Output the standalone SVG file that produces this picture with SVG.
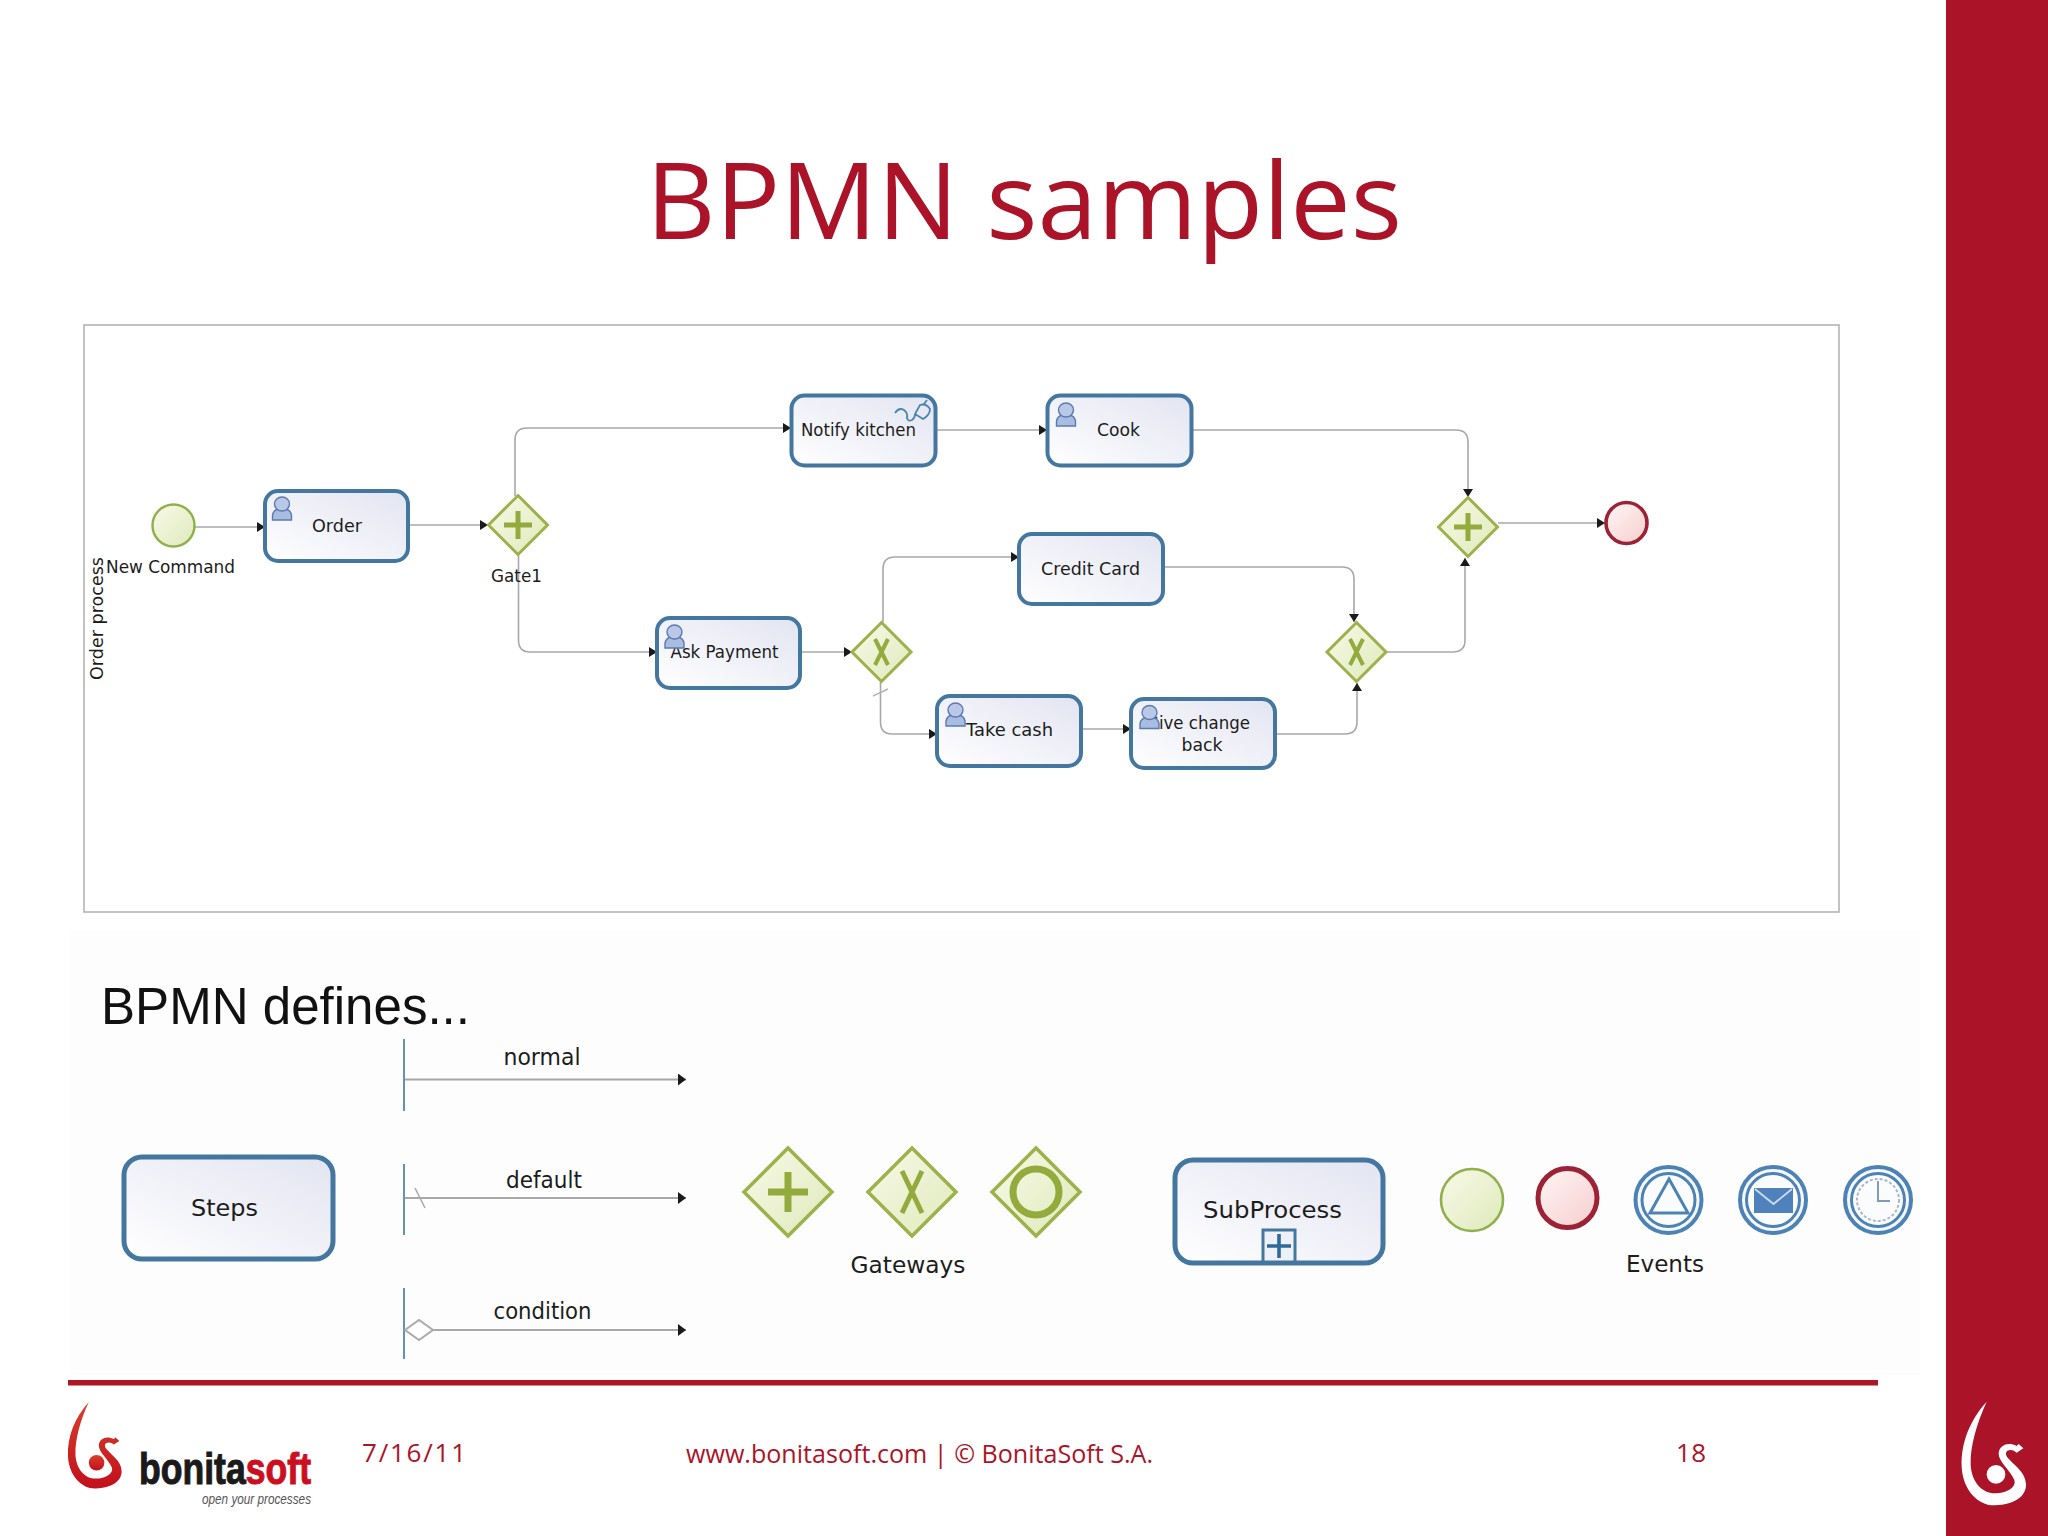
<svg xmlns="http://www.w3.org/2000/svg" xmlns:xlink="http://www.w3.org/1999/xlink" width="2048" height="1536" viewBox="0 0 2048 1536">
<style>
.box{fill:url(#gBox);stroke:#44779f;stroke-width:4}
.box2{fill:url(#gBox);stroke:#44779f;stroke-width:5}
.gw{fill:url(#gGw);stroke:#9db14a;stroke-width:3;stroke-linejoin:miter}
.mk{fill:none;stroke:#94aa3c;stroke-width:5}
.con{fill:none;stroke:#a8a8a8;stroke-width:1.6;marker-end:url(#arr)}
.con2{fill:none;stroke:#a8a8a8;stroke-width:2.2;marker-end:url(#arrB)}
.v{stroke:#3f76a0;stroke-width:1.6}
.t{font-family:"DejaVu Sans",sans-serif;font-size:18px;fill:#1c1c1c;text-anchor:middle}
.t2{font-family:"DejaVu Sans",sans-serif;font-size:23px;fill:#1c1c1c;text-anchor:middle}
.f{font-family:"Open Sans",Lato,sans-serif;font-size:26px;fill:#ab1428}
.ring{fill:#f4f7fb;stroke:#4c82b4;stroke-width:4}
.ring2{fill:#fbfcfe;stroke:#4c82b4;stroke-width:3}
</style>
<defs>
<linearGradient id="gBox" x1="0" y1="1" x2="1" y2="0"><stop offset="0" stop-color="#ffffff"/><stop offset="1" stop-color="#e2e4f1"/></linearGradient>
<linearGradient id="gGw" x1="0" y1="0" x2="1" y2="1"><stop offset="0" stop-color="#f8fae8"/><stop offset="1" stop-color="#dfe9bb"/></linearGradient>
<linearGradient id="gEnd" x1="0" y1="0" x2="1" y2="1"><stop offset="0" stop-color="#fff7f5"/><stop offset="1" stop-color="#f5cdcd"/></linearGradient>
<linearGradient id="gRed" x1="0" y1="0" x2="0" y2="1"><stop offset="0" stop-color="#d8402a"/><stop offset="1" stop-color="#c20f1e"/></linearGradient>
<marker id="arr" markerUnits="userSpaceOnUse" markerWidth="10" markerHeight="12" refX="9" refY="5" orient="auto"><path d="M1,0 L9,5 L1,10 Z" fill="#1a1a1a"/></marker>
<marker id="arrB" markerUnits="userSpaceOnUse" markerWidth="12" markerHeight="14" refX="11" refY="6" orient="auto"><path d="M3,0 L11,6 L3,12 Z" fill="#1a1a1a"/></marker>
<g id="user"><path d="M0,23 L0,18 Q1,13 6,12 L13,12 Q18,13 19,18 L19,23 Z" fill="#a9bde0" stroke="#5c7ab0" stroke-width="1.4"/><ellipse cx="9.5" cy="7" rx="7.5" ry="7" fill="#b8c8e6" stroke="#5c7ab0" stroke-width="1.4"/></g>
<g id="swoosh"><path d="M200,65 C150,120 122,190 125,260 C128,330 175,378 225,376 C280,374 320,350 318,312 C316,275 280,255 262,232 C252,218 262,205 282,212 L290,218 L310,205 L296,192 L290,198 C265,185 238,195 236,220 C235,245 270,270 283,300 C290,322 260,340 225,340 C185,340 155,305 152,255 C150,200 170,130 200,65 Z"/><circle cx="228" cy="283" r="28"/></g>
</defs>
<rect width="2048" height="1536" fill="#ffffff"/>
<rect x="70" y="930" width="1850" height="445" fill="#fdfdfd"/>
<rect x="1946" y="0" width="102" height="1536" fill="#ab1428"/>
<use xlink:href="#swoosh" href="#swoosh" transform="translate(1920,1380) scale(.3333)" fill="#ffffff"/>
<text x="1024" y="239" text-anchor="middle" font-family="'Open Sans',Lato,sans-serif" font-size="106" fill="#ab1428" textLength="756" lengthAdjust="spacingAndGlyphs">BPMN samples</text>
<rect x="84" y="325" width="1755" height="587" fill="#ffffff" stroke="#b4b4b4" stroke-width="1.6"/>

<g id="connectors">
<path class="con" d="M195,527 H265"/>
<path class="con" d="M408,525 H488"/>
<path class="con" d="M515,496 V440 Q515,428 527,428 H791"/>
<path class="con" d="M518.5,555 V640 Q518.5,652 530,652 H657"/>
<path class="con" d="M800,652 H852"/>
<path class="con" d="M883,622 V569 Q883,557 895,557 H1019"/>
<path class="con" d="M880.5,682 V722 Q880.5,734 892,734 H937"/>
<path d="M873,696 L888,689" stroke="#b4b4b4" stroke-width="1.4" fill="none"/>
<path class="con" d="M935,430 H1047"/>
<path class="con" d="M1191,430 H1456 Q1468,430 1468,442 V497"/>
<path class="con" d="M1163,567 H1342 Q1354,567 1354,579 V622"/>
<path class="con" d="M1081,729 H1131"/>
<path class="con" d="M1275,734 H1345 Q1357,734 1357,722 V683"/>
<path class="con" d="M1387,652 H1453 Q1465,652 1465,640 V558"/>
<path class="con" d="M1498,523 H1605"/>
</g>

<g id="pool-label"><text class="t" transform="translate(103,618.5) rotate(-90)" textLength="123" lengthAdjust="spacingAndGlyphs">Order process</text></g>

<g id="start"><circle cx="173.5" cy="525.500" r="21" fill="url(#gGw)" stroke="#8fb04a" stroke-width="2.4"/><text class="t" x="170.5" y="572.500" textLength="129" lengthAdjust="spacingAndGlyphs">New Command</text></g>
<g id="order"><rect class="box" x="265" y="491" width="143" height="70" rx="13"/><text class="t" x="337" y="531.500" textLength="50" lengthAdjust="spacingAndGlyphs">Order</text><use xlink:href="#user" href="#user" x="272.500" y="497"/></g>
<g id="gate1"><path class="gw" d="M518,495.500 L547.500,525 L518,554.500 L488.500,525 Z"/><path class="mk" d="M518,511 V539 M504,525 H532"/><text class="t" x="516.500" y="581.500" textLength="51" lengthAdjust="spacingAndGlyphs">Gate1</text></g>
<g id="notify"><rect class="box" x="791.500" y="395.500" width="144" height="70" rx="13"/><text class="t" x="858.500" y="436" textLength="115" lengthAdjust="spacingAndGlyphs">Notify kitchen</text><path d="M895,413 Q899,407 904,410 Q908,413 907,418 Q908,422 912,420 Q915,418 915,414 M915,414 L920,405 Q926,403 930,409 Q930,415 923,419 L915,414 M924,404 L927,400" fill="none" stroke="#4c86ad" stroke-width="1.8"/></g>
<g id="cook"><rect class="box" x="1047.500" y="395.500" width="144" height="70" rx="13"/><text class="t" x="1118.500" y="436" textLength="43" lengthAdjust="spacingAndGlyphs">Cook</text><use xlink:href="#user" href="#user" x="1056.500" y="403"/></g>
<g id="ask"><rect class="box" x="657" y="618" width="143" height="70" rx="13"/><text class="t" x="724.500" y="658" textLength="108" lengthAdjust="spacingAndGlyphs">Ask Payment</text><use xlink:href="#user" href="#user" x="665" y="625"/></g>
<g id="xor1"><path class="gw" d="M881.500,622.500 L911,652 L881.500,681.500 L852,652 Z"/><path class="mk" style="stroke-width:4" d="M875,639 L888,665 M888,639 L875,665"/></g>
<g id="credit"><rect class="box" x="1019" y="534" width="144" height="70" rx="13"/><text class="t" x="1090.500" y="574.500" textLength="99" lengthAdjust="spacingAndGlyphs">Credit Card</text></g>
<g id="take"><rect class="box" x="937" y="696" width="144" height="70" rx="13"/><text class="t" x="1009.500" y="736" textLength="87" lengthAdjust="spacingAndGlyphs">Take cash</text><use xlink:href="#user" href="#user" x="946" y="703"/></g>
<g id="give"><rect class="box" x="1131" y="699" width="144" height="69" rx="13"/><text class="t" x="1198" y="729" textLength="104" lengthAdjust="spacingAndGlyphs">Give change</text><text class="t" x="1202" y="751" textLength="41" lengthAdjust="spacingAndGlyphs">back</text><use xlink:href="#user" href="#user" x="1140" y="705.500"/></g>
<g id="xor2"><path class="gw" d="M1356.500,622.500 L1386,652 L1356.500,681.500 L1327,652 Z"/><path class="mk" style="stroke-width:4" d="M1350,639 L1363,665 M1363,639 L1350,665"/></g>
<g id="gate2"><path class="gw" d="M1468,497.500 L1497.500,527 L1468,556.500 L1438.500,527 Z"/><path class="mk" d="M1468,513 V541 M1454,527 H1482"/></g>
<g id="end"><circle cx="1626.500" cy="523" r="20.500" fill="url(#gEnd)" stroke="#9c2236" stroke-width="3.600"/></g>

<text id="defines" x="101" y="1024" font-family="'Liberation Sans',Arial,sans-serif" font-size="51" fill="#111111" textLength="369" lengthAdjust="spacingAndGlyphs">BPMN defines...</text>

<g id="flow-normal"><path class="v" d="M404,1039 V1111"/><path class="con2" d="M405,1079.500 H686"/><text class="t2" x="542" y="1065" font-size="22" textLength="77" lengthAdjust="spacingAndGlyphs">normal</text></g>
<g id="flow-default"><path class="v" d="M404,1164 V1235"/><path class="con2" d="M405,1198 H686"/><path d="M415,1188 L425,1208" stroke="#aaaaaa" stroke-width="1.5"/><text class="t2" x="544" y="1187.500" textLength="76" lengthAdjust="spacingAndGlyphs">default</text></g>
<g id="flow-condition"><path class="v" d="M404,1288 V1359"/><path class="con2" d="M433,1330 H686"/><path d="M405,1330 L419,1320 L433,1330 L419,1340 Z" fill="#ffffff" stroke="#aaaaaa" stroke-width="2"/><text class="t2" x="542.500" y="1319" textLength="98" lengthAdjust="spacingAndGlyphs">condition</text></g>

<g id="steps"><rect class="box2" x="124" y="1157" width="209" height="102" rx="18"/><text class="t2" x="224.500" y="1216" font-size="24" textLength="67" lengthAdjust="spacingAndGlyphs">Steps</text></g>
<g id="gw-plus"><path class="gw" style="stroke-width:3.500" d="M788,1148 L832,1192 L788,1236 L744,1192 Z"/><path class="mk" style="stroke-width:7" d="M788,1172 V1212 M768,1192 H808"/></g>
<g id="gw-x"><path class="gw" style="stroke-width:3.500" d="M912,1148 L956,1192 L912,1236 L868,1192 Z"/><path class="mk" d="M902,1171 L922,1213 M922,1171 L902,1213"/></g>
<g id="gw-o"><path class="gw" style="stroke-width:3.500" d="M1036,1148 L1080,1192 L1036,1236 L992,1192 Z"/><circle class="mk" style="stroke-width:7" cx="1036" cy="1192" r="23"/></g>
<text id="gateways" class="t2" x="908" y="1273" textLength="115" lengthAdjust="spacingAndGlyphs">Gateways</text>

<g id="subprocess"><rect class="box2" x="1175" y="1160" width="208" height="103" rx="18"/><text class="t2" x="1272.500" y="1218" font-size="24" textLength="139" lengthAdjust="spacingAndGlyphs">SubProcess</text><rect x="1263" y="1230" width="32" height="32" fill="#eef1f8" stroke="#44779f" stroke-width="3"/><path d="M1279,1234 V1258 M1267,1246 H1291" stroke="#2f6a9a" stroke-width="3.600" fill="none"/></g>
<g id="ev-start"><circle cx="1472" cy="1200" r="31" fill="url(#gGw)" stroke="#8fb04a" stroke-width="2.600"/></g>
<g id="ev-end"><circle cx="1567.500" cy="1198" r="29.500" fill="url(#gEnd)" stroke="#9c2236" stroke-width="5"/></g>
<g id="ev-signal"><circle class="ring" cx="1668.500" cy="1200" r="33"/><circle class="ring2" cx="1668.500" cy="1200" r="26.500"/><path d="M1669,1179 L1688,1213 H1650 Z" fill="#fbfcfe" stroke="#4c82b4" stroke-width="3"/></g>
<g id="ev-message"><circle class="ring" cx="1773" cy="1200" r="33"/><circle class="ring2" cx="1773" cy="1200" r="26.500"/><rect x="1754" y="1188" width="39" height="25" fill="#4f81bd"/><path d="M1755,1189 L1773.500,1204 L1792,1189" fill="none" stroke="#cfdcee" stroke-width="1.800"/></g>
<g id="ev-timer"><circle class="ring" cx="1878" cy="1200" r="33"/><circle class="ring2" cx="1878" cy="1200" r="26.500"/><circle cx="1878" cy="1200" r="21" fill="none" stroke="#a9b8c6" stroke-width="2" stroke-dasharray="3 2"/><path d="M1878,1181 V1201 H1890" fill="none" stroke="#7f9bb6" stroke-width="2"/></g>
<text id="events" class="t2" x="1665" y="1272" textLength="78" lengthAdjust="spacingAndGlyphs">Events</text>

<rect x="68" y="1380" width="1810" height="5.500" fill="#b01526"/>
<g id="logo"><use xlink:href="#swoosh" href="#swoosh" transform="translate(33.200,1384) scale(.278)" fill="url(#gRed)"/>
<text x="139" y="1484" font-family="'Liberation Sans',Arial,sans-serif" font-weight="700" font-size="44" stroke-width="1" textLength="172" lengthAdjust="spacingAndGlyphs"><tspan fill="#1a1a1a" stroke="#1a1a1a">bonita</tspan><tspan fill="#cc0f1f" stroke="#cc0f1f">soft</tspan></text>
<text x="202" y="1504" font-family="'Liberation Sans',Arial,sans-serif" font-style="italic" font-size="14.500" fill="#555555" textLength="109" lengthAdjust="spacingAndGlyphs">open your processes</text></g>
<text class="f" x="362" y="1462" textLength="104" lengthAdjust="spacing">7/16/11</text>
<text class="f" x="686" y="1463" textLength="467" lengthAdjust="spacingAndGlyphs">www.bonitasoft.com | © BonitaSoft S.A.</text>
<text class="f" x="1676" y="1462" textLength="30" lengthAdjust="spacing">18</text>
</svg>
